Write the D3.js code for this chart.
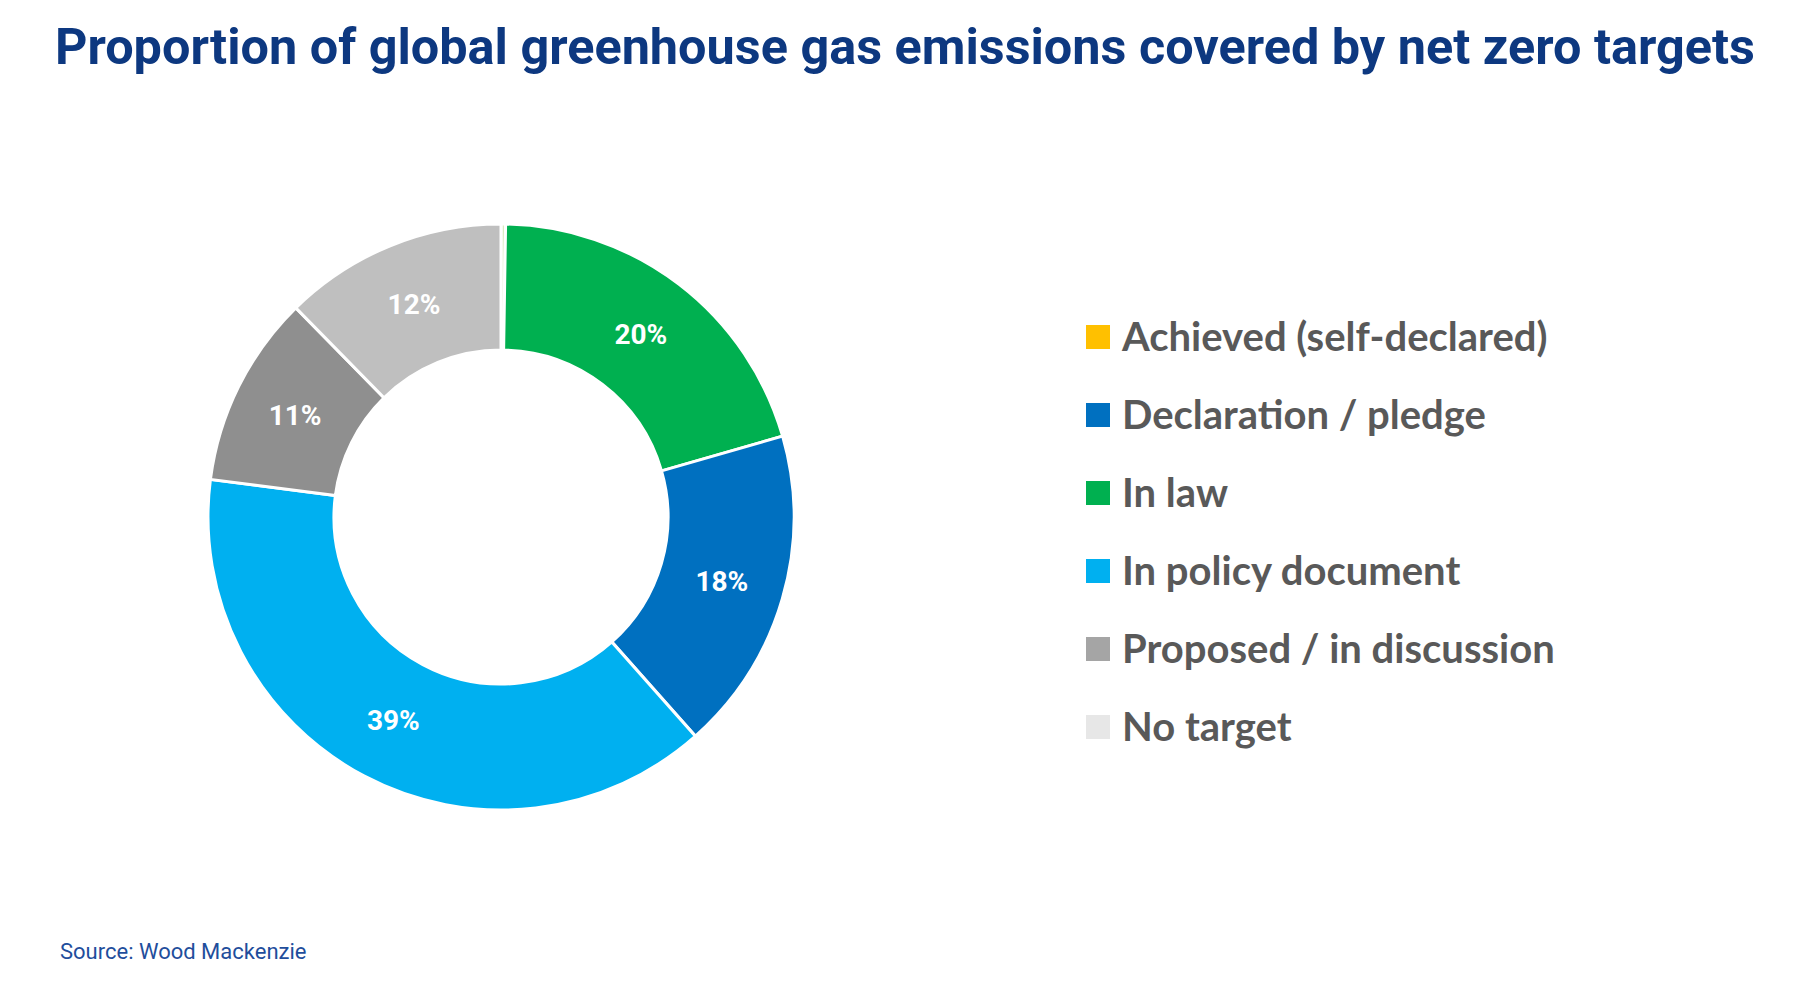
<!DOCTYPE html>
<html>
<head>
<meta charset="utf-8">
<script src="https://cdn.jsdelivr.net/npm/d3@7"></script>
<style>
  body { margin: 0; background: #fff; }
  svg { display: block; }
</style>
</head>
<body>
<div id="chart"></div>
<script>
// legend order (as in the original)
const categories = ["Achieved (self-declared)", "Declaration / pledge", "In law", "In policy document", "Proposed / in discussion", "No target"]
const legendColors = ["#ffc000", "#0070c0", "#00b050", "#00b0f0", "#a5a5a5", "#e7e7e7"]

// slices clockwise from 12 o'clock, shares in %
const sliceNames = ["Achieved (self-declared)", "In law", "Declaration / pledge", "In policy document", "Proposed / in discussion", "No target"]
const sliceValues = [0.25, 20.3, 17.9, 38.6, 10.6, 12.35]
const sliceLabels = ["", "20%", "18%", "39%", "11%", "12%"]
const sliceColors = ["#d8ebc0", "#00b050", "#0070c0", "#00b0f0", "#8f8f8f", "#bfbfbf"]

const W = 1800, H = 981
const svg = d3.select("#chart").append("svg").attr("width", W).attr("height", H)

svg.append("text")
   .attr("x", 55).attr("y", 64)
   .attr("font-family", "Roboto").attr("font-weight", 700).attr("font-size", 50.4)
   .attr("fill", "#0d3880")
   .text("Proportion of global greenhouse gas emissions covered by net zero targets")

svg.append("text")
   .attr("x", 60).attr("y", 959)
   .attr("font-family", "Roboto").attr("font-weight", 400).attr("font-size", 22)
   .attr("fill", "#1f4e9c")
   .text("Source: Wood Mackenzie")

const slices = sliceNames.map((n, i) => ({name: n, value: sliceValues[i], label: sliceLabels[i], color: sliceColors[i]}))
const pie = d3.pie().value(d => d.value).sort(null)
const arc = d3.arc().innerRadius(167).outerRadius(293)

const g = svg.append("g").attr("transform", "translate(501,517)")
const arcs = pie(slices)
g.selectAll("path")
 .data(arcs)
 .enter()
 .append("path")
 .attr("d", arc)
 .attr("fill", d => d.data.color)
 .attr("stroke", "#fff")
 .attr("stroke-width", 3)

g.selectAll("text")
 .data(arcs)
 .enter()
 .append("text")
 .attr("transform", d => "translate(" + arc.centroid(d) + ")")
 .attr("text-anchor", "middle")
 .attr("dy", "0.36em")
 .attr("font-family", "Roboto").attr("font-weight", 700).attr("font-size", 28)
 .attr("fill", "#fff")
 .text(d => d.data.label)

// legend
const y = d3.scalePoint().domain(categories).range([337, 727])
const leg = svg.append("g")
const items = leg.selectAll("g").data(categories).enter().append("g")
  .attr("transform", d => "translate(1086," + y(d) + ")")
items.append("rect")
  .attr("x", 0).attr("y", -12).attr("width", 24).attr("height", 24)
  .attr("fill", (d, i) => legendColors[i])
items.append("text")
  .attr("x", 36).attr("y", 14)
  .attr("font-family", "Lato").attr("font-weight", 700).attr("font-size", 40)
  .attr("fill", "#595959")
  .text(d => d)
</script>
</body>
</html>
